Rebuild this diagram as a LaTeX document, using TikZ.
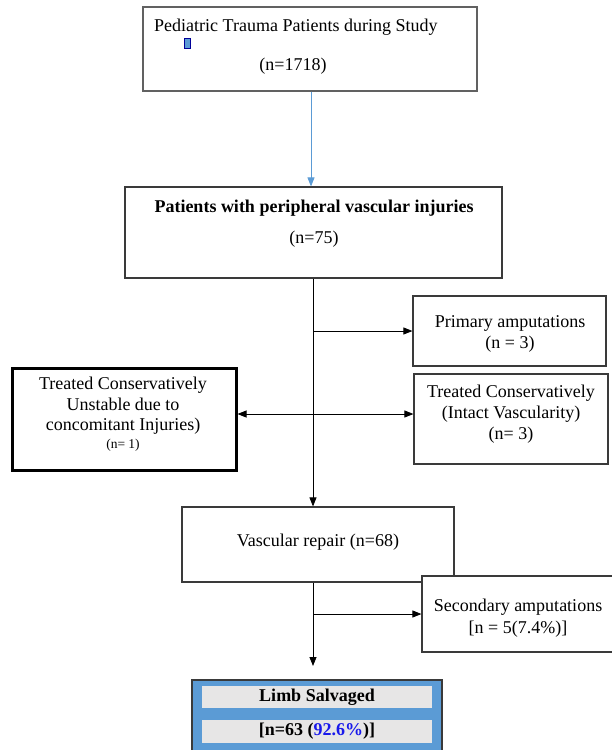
\documentclass[tikz,border=0pt]{standalone}
\usepackage{fontspec}
\setmainfont{Liberation Serif}
\usetikzlibrary{arrows.meta,calc}
\definecolor{boxblue}{HTML}{5B9BD5}
\definecolor{bargray}{HTML}{E7E6E6}
\definecolor{pctblue}{RGB}{25,25,235}
\definecolor{edgegray}{HTML}{3A3A3A}
\begin{document}
\begin{tikzpicture}[x=1pt,y=-1pt,
  box/.style={draw=edgegray,line width=1.2pt,fill=white,inner sep=0pt,minimum width=#1},
  txt/.style={font=\fontsize{18}{21}\selectfont,align=center,inner sep=0pt},
  conn/.style={line width=0.8pt,-{Triangle[length=9pt,width=7pt]}},
]
\useasboundingbox (0,0) rectangle (611,750);
% boxes
\node[box=334pt,minimum height=84pt,draw=edgegray!80] (top) at (310,49) {};
\node[box=377pt,minimum height=91pt] (pvi) at (313.5,232.5) {};
\node[box=193pt,minimum height=70pt] (prim) at (509.5,331) {};
\node[box=194pt,minimum height=90pt] (tci) at (511,419) {};
\node[box=224pt,minimum height=102pt,draw=black,line width=3pt] (tcu) at (124,419) {};
\node[box=272pt,minimum height=75pt] (vr) at (318,544.5) {};
\node[box=218pt,minimum height=76pt] (sec) at (531,614) {};
\node[box=250pt,minimum height=80pt,fill=boxblue,draw=edgegray,line width=1.5pt] (limb) at (317,720) {};
% texts
\node[txt,anchor=west] (toptxt) at (154,27.5) {Pediatric Trauma Patients during Study};
\node[draw=blue!60!black,fill=boxblue,line width=0.5pt,minimum width=6pt,minimum height=10.5pt,inner sep=0pt] (mark) at (187.5,43) {};
\node[txt] (topn) at (293,66) {(n=1718)};
\node[txt,font=\fontsize{18}{21}\selectfont\bfseries] (pvitxt) at (314,208) {Patients with peripheral vascular injuries};
\node[txt] (pvin) at (314,239.5) {(n=75)};
\node[txt] (primtxt) at (510,334) {Primary amputations\\(n = 3)};
\node[txt] (tcitxt) at (511,414.5) {Treated Conservatively\\(Intact Vascularity)\\(n= 3)};
\node[txt,font=\fontsize{18}{20.5}\selectfont] (tcutxt) at (123,414) {Treated Conservatively\\Unstable due to\\concomitant Injuries)\\[-3pt]{\fontsize{13.5}{15}\selectfont(n= 1)}};
\node[txt] (vrtxt) at (318,542) {Vascular repair (n=68)};
\node[txt,font=\fontsize{18}{22.5}\selectfont] (sectxt) at (518,618) {Secondary amputations\\{[n = 5(7.4\%)]}};
\node[fill=bargray,minimum width=230pt,minimum height=22pt,inner sep=0pt] (bar1) at (317,697) {};
\node[fill=bargray,minimum width=230pt,minimum height=23pt,inner sep=0pt] (bar2) at (317,731.5) {};
\node[txt,font=\fontsize{18}{21}\selectfont\bfseries] (limbtxt) at (bar1) {Limb Salvaged};
\node[txt,font=\fontsize{18}{21}\selectfont\bfseries] (limbn) at (bar2) {[n=63 (\textcolor{pctblue}{92.6\%})]};
% connectors
\coordinate (tipA) at (313,666);
\draw[conn,draw=boxblue,fill=boxblue] (top.south -| 311,0) -- (pvi.north -| 311,0);
\draw[conn] (pvi.south -| tipA) -- (vr.north -| tipA);
\draw[conn] (prim.west -| tipA) -- (prim.west);
\draw[line width=0.8pt,{Triangle[length=9pt,width=7pt]}-{Triangle[length=9pt,width=7pt]}] ([yshift=5pt]tcu.east) -- ([yshift=5pt]tcu.east -| tci.west);
\draw[conn] (vr.south -| tipA) -- (tipA);
\draw[conn] (sec.west -| tipA) -- (sec.west);
\end{tikzpicture}
\end{document}
